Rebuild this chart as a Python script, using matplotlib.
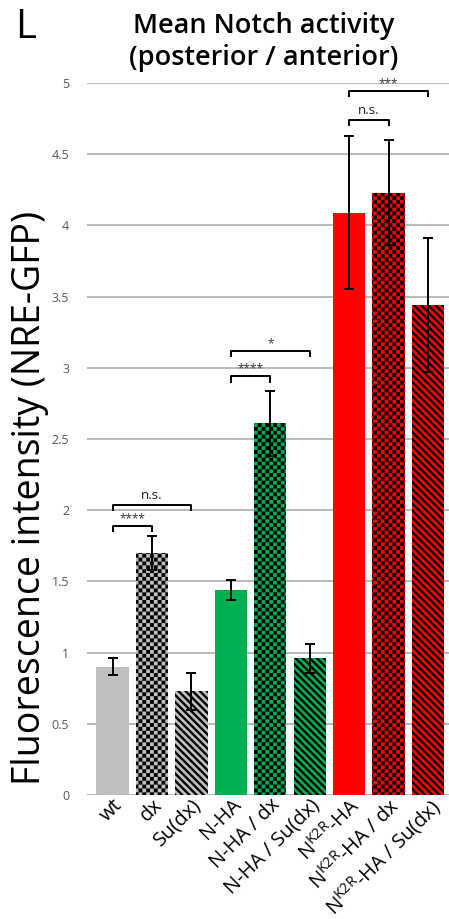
import warnings
warnings.filterwarnings('ignore')
import numpy as np
import matplotlib
matplotlib.use('Agg')
import matplotlib.pyplot as plt
import matplotlib.hatch as mhatch
from matplotlib.path import Path

# ---------------- data ----------------
categories = ['wt', 'dx', 'Su(dx)', 'N-HA', 'N-HA / dx', 'N-HA / Su(dx)',
              r'N$^{\mathrm{K2R}}$-HA', r'N$^{\mathrm{K2R}}$-HA / dx',
              r'N$^{\mathrm{K2R}}$-HA / Su(dx)']
means = [0.90, 1.70, 0.73, 1.44, 2.61, 0.96, 4.09, 4.23, 3.44]
errors = [0.06, 0.12, 0.13, 0.07, 0.23, 0.10, 0.54, 0.37, 0.47]
bar_colors = ['#BFBFBF', '#BFBFBF', '#BFBFBF',
              '#00B050', '#00B050', '#00B050',
              '#FF0000', '#FF0000', '#FF0000']
bar_patterns = ['', 'c', 'z', '', 'c', 'z', '', 'c', 'z']
sig_left = [0, 0, 3, 3, 6, 6]
sig_right = [1, 2, 4, 5, 7, 8]
sig_height = [1.89, 2.04, 2.94, 3.12, 4.74, 4.945]
sig_text = ['****', 'n.s.', '****', '*', 'n.s.', '***']
yticks = [0, 0.5, 1, 1.5, 2, 2.5, 3, 3.5, 4, 4.5, 5]
ytick_labels = ['0', '0.5', '1', '1.5', '2', '2.5', '3', '3.5', '4', '4.5', '5']


# ---------------- custom hatches (checkerboard & thick stripes) ----------------
class CheckerHatch(mhatch.HatchPatternBase):
    n = 26

    def __init__(self, hatch, density):
        k = hatch.count('c')
        self.num_vertices = 0 if k == 0 else (self.n * self.n // 2) * 5

    def set_vertices_and_codes(self, vertices, codes):
        n = self.n
        s = 1.0 / n
        sq = np.array([[0, 0], [s, 0], [s, s], [0, s], [0, 0]], float)
        parts = []
        for i in range(n):
            for j in range(n):
                if (i + j) % 2 == 0:
                    parts.append(sq + [i * s, j * s])
        vertices[:] = np.concatenate(parts)
        c = np.array([Path.MOVETO, Path.LINETO, Path.LINETO, Path.LINETO,
                      Path.CLOSEPOLY], dtype=Path.code_type)
        codes[:] = np.tile(c, len(parts))


class StripeHatch(mhatch.HatchPatternBase):
    n = 14
    frac = 0.45

    def __init__(self, hatch, density):
        k = hatch.count('z')
        self.num_vertices = 0 if k == 0 else (2 * self.n + 1) * 5

    def set_vertices_and_codes(self, vertices, codes):
        n = self.n
        s = 1.0 / n
        w = self.frac * s
        parts = []
        for k in range(-n, n + 1):
            a = k * s
            parts.append(np.array([[a, 1], [a + w, 1], [a + w + 1, 0],
                                   [a + 1, 0], [a, 1]], float))
        vertices[:] = np.concatenate(parts)
        c = np.array([Path.MOVETO, Path.LINETO, Path.LINETO, Path.LINETO,
                      Path.CLOSEPOLY], dtype=Path.code_type)
        codes[:] = np.tile(c, len(parts))


mhatch._hatch_types.append(CheckerHatch)
mhatch._hatch_types.append(StripeHatch)

plt.rcParams['font.family'] = ['Open Sans', 'DejaVu Sans']
plt.rcParams['mathtext.fontset'] = 'custom'
plt.rcParams['mathtext.rm'] = 'Open Sans'
plt.rcParams['mathtext.it'] = 'Open Sans:italic'
plt.rcParams['mathtext.bf'] = 'Open Sans:bold'
plt.rcParams['hatch.linewidth'] = 0.05
plt.rcParams['hatch.color'] = 'black'

fig = plt.figure(figsize=(4.49, 9.19), dpi=100)
ax = fig.add_axes([87.3 / 449, 1 - 795 / 919, 1 - 87.3 / 449, 712 / 919])

x = np.arange(len(categories))
for xi, m, col, hp in zip(x, means, bar_colors, bar_patterns):
    ax.bar(xi, m, width=0.82, color=col, hatch=hp if hp else None,
           edgecolor='black', linewidth=0, zorder=2)
ax.errorbar(x, means, yerr=errors, fmt='none', ecolor='black',
            elinewidth=1.4, capsize=3.4, capthick=1.4, zorder=3)

# significance brackets
tick = 0.045
for l, r, h, t in zip(sig_left, sig_right, sig_height, sig_text):
    ax.plot([l, l, r, r], [h - tick, h, h, h - tick], color='black',
            lw=1.4, zorder=4, solid_capstyle='butt')
    if t.startswith('*'):
        ax.text((l + r) / 2, h + 0.005, t, ha='center', va='bottom',
                fontsize=8.5, color='#333333', zorder=4)
    else:
        ax.text((l + r) / 2, h + 0.02, t, ha='center', va='bottom',
                fontsize=9.5, color='#222222', zorder=4)

ax.set_xlim(-0.64, 8.53)
ax.set_ylim(0, 5)
ax.set_yticks(yticks)
ax.set_yticklabels(ytick_labels, fontsize=9, color='#595959')
ax.set_xticks(x)
ax.set_xticklabels(categories, rotation=45, ha='right',
                   rotation_mode='anchor', fontsize=14.5, color='black',
                   fontweight='medium')
ax.tick_params(axis='both', length=0)
ax.tick_params(axis='y', pad=13)
ax.tick_params(axis='x', pad=0)
ax.yaxis.grid(True, color='#A6A6A6', lw=1.1, zorder=0)
ax.set_axisbelow(True)
for sp in ax.spines.values():
    sp.set_visible(False)

fig.text(30 / 449, 1 - 498 / 919, 'Fluorescence intensity (NRE-GFP)',
         rotation=90, ha='center', va='center', fontsize=27, color='black',
         fontweight='medium')
fig.text(264 / 449, 1 - 42 / 919, 'Mean Notch activity\n(posterior / anterior)',
         ha='center', va='center', fontsize=19.5, fontweight='semibold',
         linespacing=1.15, color='black')
fig.text(26 / 449, 1 - 28 / 919, 'L', ha='center', va='center', fontsize=29,
         color='black')

fig.savefig('out.png', dpi=100)
